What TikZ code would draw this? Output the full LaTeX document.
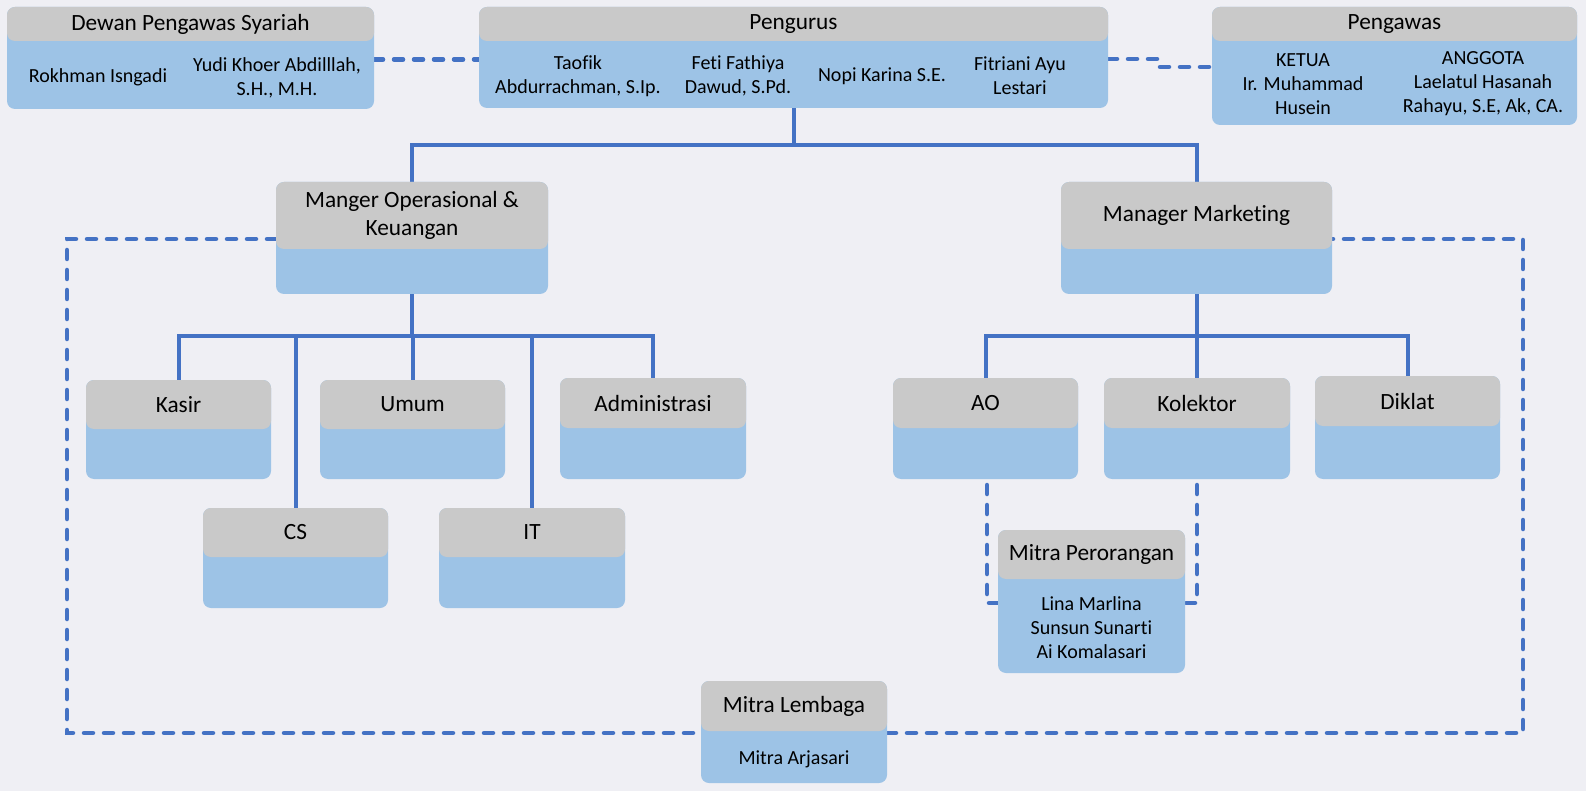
\documentclass[tikz,border=0pt]{standalone}
\usepackage{fontspec}
\setmainfont{Carlito}[Ligatures=NoCommon]
\usetikzlibrary{calc}
\definecolor{bgc}{HTML}{EFEFF4}
\definecolor{hdr}{HTML}{C9C9C9}
\definecolor{bdy}{HTML}{9DC3E6}
\definecolor{lnc}{HTML}{4472C4}
\pgfdeclarelayer{back}
\pgfdeclarelayer{canvas}
\pgfsetlayers{canvas,back,main}
\tikzset{
 bodybox/.style={fill=bdy, rounded corners=8pt, inner sep=0pt, outer sep=0pt, draw=none},
 headbox/.style={fill=hdr, rounded corners=8pt, inner sep=0pt, outer sep=0pt, font=\fontsize{23.3}{28}\selectfont, align=center},
 btext/.style={font=\fontsize{20}{24}\selectfont, align=center, inner sep=0pt},
 conn/.style={draw=lnc, line width=4pt},
 dashline/.style={draw=lnc, line width=4.5pt, dash pattern=on 9pt off 11pt, line cap=round},
}
\newcommand\orgbox[7]{%
  \node[bodybox, minimum width={(#4)-(#2)}, minimum height={(#5)-(#3)}] (#1) at ({((#2)+(#4))/2},{((#3)+(#5))/2}) {};
  \node[headbox, minimum width={(#4)-(#2)}, minimum height={(#6)-(#3)}] (#1-h) at ({((#2)+(#4))/2},{((#3)+(#6))/2}) {#7};
}
\begin{document}
\begin{tikzpicture}[x=1pt,y=-1pt]
\begin{pgfonlayer}{canvas}
\fill[bgc] (0,0) rectangle (1586,791);
\end{pgfonlayer}
\useasboundingbox (0,0) rectangle (1586,791);

% top row
\orgbox{dewan}{7}{7}{374}{109}{41}{Dewan Pengawas Syariah}
\node[btext] (dewan-a) at (98,77) {Rokhman Isngadi};
\node[btext] (dewan-b) at (277,78) {Yudi Khoer Abdilllah,\\S.H., M.H.};

\orgbox{pengurus}{479}{7}{1108}{108}{41}{Pengurus}
\node[btext] (peng-a) at (578,76) {Taofik\\Abdurrachman, S.Ip.};
\node[btext] (peng-b) at (738,76) {Feti Fathiya\\Dawud, S.Pd.};
\node[btext] (peng-c) at (882,76) {Nopi Karina S.E.};
\node[btext] (peng-d) at (1020,76) {Fitriani Ayu\\Lestari};

\orgbox{pengawas}{1212}{7}{1577}{125}{41}{Pengawas}
\node[btext] (pgw-a) at (1303,84) {KETUA\\Ir. Muhammad\\Husein};
\node[btext] (pgw-b) at (1483,84) {ANGGOTA\\Laelatul Hasanah\\Rahayu, S.E, Ak, CA.};

% managers
\orgbox{mops}{276}{182}{548}{294}{249}{Manger Operasional \&\\Keuangan}
\orgbox{mmkt}{1061}{182}{1332}{294}{249}{Manager Marketing}

% ops staff
\orgbox{kasir}{86}{380}{271}{479}{429}{Kasir}
\orgbox{umum}{320}{380}{505}{479}{429}{Umum}
\orgbox{admin}{560}{378}{746}{479}{428}{Administrasi}
\orgbox{cs}{203}{508}{388}{608}{557}{CS}
\orgbox{it}{439}{508}{625}{608}{557}{IT}

% marketing staff
\orgbox{ao}{893}{378}{1078}{479}{428}{AO}
\orgbox{kol}{1104}{378}{1290}{479}{428}{Kolektor}
\orgbox{diklat}{1315}{376}{1500}{479}{426}{Diklat}

\orgbox{mper}{998}{530}{1185}{673}{579}{Mitra Perorangan}
\node[btext] (mper-t) at (1091.5,628) {Lina Marlina\\Sunsun Sunarti\\Ai Komalasari};

\orgbox{mlem}{701}{681}{887}{783}{731}{Mitra Lembaga}
\node[btext] (mlem-t) at (794,759) {Mitra Arjasari};

% coordinates
\coordinate (topbar) at (793,145);
\coordinate (opsbar) at (413,336);
\coordinate (mktbar) at (1198,336);
\coordinate (jog1) at (1160,59);
\coordinate (jog2) at (1160,67);
\coordinate (rtl) at (67,239);
\coordinate (rbl) at (67,733);
\coordinate (rbr) at (1523,733);
\coordinate (rtr) at (1523,239);
\coordinate (mpl) at (987,603);
\coordinate (mpr) at (1197,603);

\begin{pgfonlayer}{back}
% solid tree
\draw[conn] (pengurus.south) -- (pengurus.south |- topbar);
\draw[conn] (mops.north) |- (topbar) -| (mmkt.north);
\draw[conn] (mops.south) -- (mops.south |- opsbar);
\draw[conn] (kasir.north) |- (opsbar) -| (admin.north);
\draw[conn] (cs.north) -- (cs.north |- opsbar);
\draw[conn] (umum.north) -- (umum.north |- opsbar);
\draw[conn] (it.north) -- (it.north |- opsbar);
\draw[conn] (mmkt.south) -- (mmkt.south |- mktbar);
\draw[conn] (ao.north) |- (mktbar) -| (diklat.north);
\draw[conn] (kol.north) -- (kol.north |- mktbar);

% dashed
\draw[dashline] (dewan.east |- 0,59.5) -- (pengurus.west |- 0,59.5);
\draw[dashline] (pengurus.east |- jog1) -- (jog1) -- (jog2) -- (pengawas.west |- jog2);
\draw[dashline] (mops.west |- rtl) -- (rtl) -- (rbl) -- (mlem.west |- rbl);
\draw[dashline] (mlem.east |- rbr) -- (rbr) -- (rtr) -- (mmkt.east |- rtr);
\draw[dashline] (ao.south -| mpl) ++(0,6) -- (mpl) -- (mper.west |- mpl);
\draw[dashline] (kol.south -| mpr) ++(0,6) -- (mpr) -- (mper.east |- mpr);
\end{pgfonlayer}
\end{tikzpicture}
\end{document}
